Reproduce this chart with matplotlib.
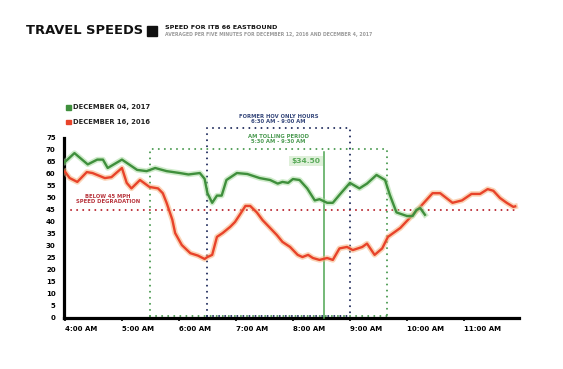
import matplotlib
matplotlib.use("Agg")
import matplotlib.pyplot as plt
import matplotlib.patheffects as pe
from matplotlib.patches import Rectangle

plt.rcParams['font.family'] = ['DejaVu Sans']

# ---------------- data ----------------
dec2017_times = ["4:00", "4:10", "4:24", "4:34", "4:40", "4:45", "5:00", "5:16", "5:26", "5:35",
                 "5:47", "6:01", "6:10", "6:22", "6:27", "6:30", "6:35", "6:40", "6:45", "6:50",
                 "7:01", "7:12", "7:25", "7:36", "7:44", "7:49", "7:55", "8:00", "8:07", "8:15",
                 "8:23", "8:28", "8:36", "8:42", "8:49", "9:00", "9:10", "9:18", "9:28", "9:37",
                 "9:42", "9:49", "10:00", "10:06", "10:10", "10:14", "10:19"]
dec2017_speed = [65, 68.7, 64, 66, 66, 62.5, 66, 61.7, 61.2, 62.5,
                 61.2, 60.4, 59.8, 60.4, 58, 52, 48, 51, 51, 57.5,
                 60.4, 60, 58.3, 57.5, 56, 56.7, 56.3, 57.9, 57.5, 54,
                 49, 49.5, 48, 48, 51.3, 56.3, 54, 56, 59.6, 57.5,
                 51.3, 44, 42.5, 42.5, 45, 45.8, 43]

dec2016_times = ["4:00", "4:05", "4:13", "4:23", "4:29", "4:42", "4:49", "4:55", "5:00", "5:05",
                 "5:10", "5:19", "5:29", "5:38", "5:43", "5:47", "5:53", "5:56", "6:03", "6:12",
                 "6:20", "6:27", "6:30", "6:35", "6:40", "6:46", "6:54", "6:59", "7:04", "7:10",
                 "7:15", "7:22", "7:28", "7:36", "7:43", "7:49", "7:57", "8:05", "8:10", "8:16",
                 "8:21", "8:28", "8:36", "8:42", "8:49", "8:57", "9:03", "9:13", "9:18", "9:26",
                 "9:34", "9:40", "9:53", "10:03", "10:14", "10:27", "10:35", "10:48", "10:58", "11:08",
                 "11:17", "11:25", "11:31", "11:38", "11:45", "11:52", "11:54"]
dec2016_speed = [61, 58.3, 56.7, 60.8, 60.4, 58.3, 58.7, 60.8, 62.5, 56.3,
                 54, 57.5, 54.6, 54, 52, 48, 41, 35.4, 30.4, 27,
                 26, 24.6, 25.4, 26.3, 33.8, 35.4, 38, 40, 43, 46.7,
                 46.7, 44, 40.8, 37.5, 34.6, 31.7, 29.6, 26.3, 25.4, 26.3,
                 25, 24.2, 25, 24.2, 29, 29.6, 28.3, 29.6, 31, 26.3,
                 29, 33.8, 37.5, 41.7, 46.3, 52, 52, 48, 49, 51.7,
                 51.7, 53.7, 53, 50, 48, 46.3, 46.5]

hour_labels = ["4:00 AM", "5:00 AM", "6:00 AM", "7:00 AM", "8:00 AM", "9:00 AM", "10:00 AM", "11:00 AM"]
hour_ticks = ["4:00", "5:00", "6:00", "7:00", "8:00", "9:00", "10:00", "11:00"]
y_ticks = list(range(0, 80, 5))

tolling_period = ["5:30", "9:39"]   # drawn position
tolling_top = 70.5
hov_period = ["6:30", "9:00"]
hov_top = 79
degradation_speed = 45
toll_time = "8:33"
toll_line_top = 69
toll_label = "$34.50"


def mins(t):
    h, m = t.split(":")
    return int(h) * 60 + int(m) - 240


# ---------------- figure ----------------
W, H = 563, 369
fig = plt.figure(figsize=(W / 100, H / 100), dpi=100)
fig.patch.set_facecolor("white")


def fx(x):
    return x / W


def fy(y):
    return 1 - y / H


ax = fig.add_axes([fx(64), fy(318), (519 - 64) / W, (318 - 126) / H])
ax.set_xlim(-1, 478)
ax.set_ylim(0, 80)

GREEN = "#3f8f3c"
GREEN_GLOW = "#a8dca0"
RED = "#e8432a"
RED_GLOW = "#f7b07a"
NAVY = "#1f2b5c"
DGREEN = "#4a9a50"
DRED = "#b8232d"

# rectangles (dotted)
dot = dict(linestyle=(0, (0.01, 3.0)), linewidth=1.45, dash_capstyle="round", clip_on=False)
t0, t1 = mins(tolling_period[0]), mins(tolling_period[1])
ax.plot([t0, t0, t1, t1], [0.8, tolling_top, tolling_top, 0.8], color=DGREEN, zorder=2, **dot)
ax.plot([t0, t1], [0.8, 0.8], color=DGREEN, zorder=2, **dot)
h0, h1 = mins(hov_period[0]), mins(hov_period[1])
ax.plot([h0, h0, h1, h1], [0.8, hov_top, hov_top, 0.8], color=NAVY, zorder=3, **dot)
ax.plot([h0, h1], [0.8, 0.8], color=NAVY, zorder=3, **dot)

# 45 mph line
ax.plot([0, 478], [degradation_speed] * 2, color=DRED, zorder=2, **dot)

# toll line
tt = mins(toll_time)
ax.plot([tt, tt], [0, toll_line_top], color="#4ea552", lw=1.1, zorder=4, clip_on=False)
ax.text(tt - 4, 65.5, toll_label, ha="right", va="center", fontsize=5.4, fontweight="bold",
        color="#5aaa5a", zorder=6,
        bbox=dict(boxstyle="square,pad=0.3", fc="#dff0da", ec="none"))

# series
ax.plot([mins(t) for t in dec2016_times], dec2016_speed, color=RED, lw=1.7, zorder=5,
        solid_joinstyle="round",
        path_effects=[pe.Stroke(linewidth=4.0, foreground=RED_GLOW, alpha=0.55), pe.Normal()])
ax.plot([mins(t) for t in dec2017_times], dec2017_speed, color=GREEN, lw=1.7, zorder=5,
        solid_joinstyle="round",
        path_effects=[pe.Stroke(linewidth=4.0, foreground=GREEN_GLOW, alpha=0.55), pe.Normal()])

# axes styling
for s in ["top", "right"]:
    ax.spines[s].set_visible(False)
ax.spines["left"].set_linewidth(2.3)
ax.spines["bottom"].set_linewidth(2.3)
ax.spines["left"].set_bounds(0, 75)
ax.set_yticks(y_ticks)
ax.set_yticklabels([str(v) for v in y_ticks], fontsize=5.0, fontweight="bold")
ax.tick_params(axis="y", length=0, pad=6)
ax.set_xticks([mins(t) for t in hour_ticks])
ax.set_xticklabels(hour_labels, fontsize=5.0, fontweight="bold", ha="left")
ax.tick_params(axis="x", length=2, width=1.2, pad=4)

# annotations
ax.text((h0 + h1) / 2, 83, "FORMER HOV ONLY HOURS\n6:30 AM - 9:00 AM", ha="center", va="center",
        fontsize=3.8, fontweight="bold", color="#34467a", linespacing=1.05, clip_on=False)
ax.text((h0 + h1) / 2, 74.5, "AM TOLLING PERIOD\n5:30 AM - 9:30 AM", ha="center", va="center",
        fontsize=3.8, fontweight="bold", color="#4a9a50", linespacing=1.05)
ax.text(45, 49.6, "BELOW 45 MPH\nSPEED DEGRADATION", ha="center", va="center",
        fontsize=3.8, fontweight="bold", color="#b8343c", linespacing=1.05)

# titles
fig.text(fx(26), fy(31), "TRAVEL SPEEDS", fontsize=9.4, fontweight="bold", va="center", ha="left",
         color="#111111")
fig.patches.append(Rectangle((fx(147), fy(36)), 10 / W, 10 / H, transform=fig.transFigure,
                             color="#111111"))
fig.text(fx(165), fy(27.5), "SPEED FOR ITB 66 EASTBOUND", fontsize=4.6, fontweight="bold",
         va="center", ha="left", color="#111111")
fig.text(fx(165), fy(34.5), "AVERAGED PER FIVE MINUTES FOR DECEMBER 12, 2016 AND DECEMBER 4, 2017",
         fontsize=3.3, fontweight="bold", va="center", ha="left", color="#9a9a9a")

# legend
fig.patches.append(Rectangle((fx(66), fy(109.5)), 4.5 / W, 4.5 / H, transform=fig.transFigure,
                             color=GREEN))
fig.text(fx(73), fy(107.3), "DECEMBER 04, 2017", fontsize=4.9, fontweight="bold", va="center",
         ha="left", color="#222222")
fig.patches.append(Rectangle((fx(66), fy(124)), 4.5 / W, 4.5 / H, transform=fig.transFigure,
                             color=RED))
fig.text(fx(73), fy(121.8), "DECEMBER 16, 2016", fontsize=4.9, fontweight="bold", va="center",
         ha="left", color="#222222")

fig.savefig("out.png", dpi=100, facecolor="white")
